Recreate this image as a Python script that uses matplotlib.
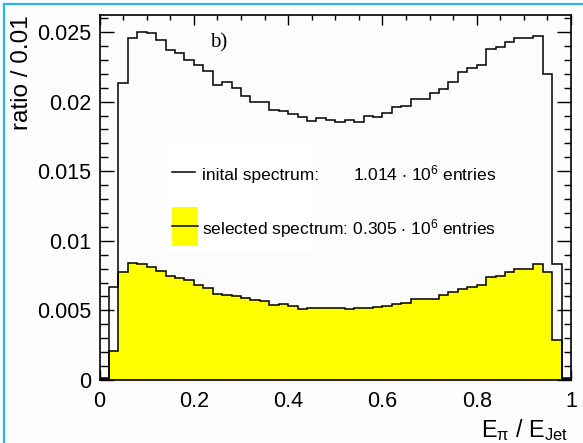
import numpy as np
import matplotlib
matplotlib.use("Agg")
import matplotlib.pyplot as plt
from matplotlib.ticker import MultipleLocator, FuncFormatter
from matplotlib.patches import Rectangle

# histogram contents, 50 bins in E_pi / E_Jet
bin_edges = np.linspace(0.0, 1.0, 51)

initial_spectrum = [
    0.00015, 0.0067, 0.0213, 0.0246, 0.0250, 0.0249, 0.0244, 0.0237, 0.0235, 0.0230,
    0.0226, 0.0222, 0.0212, 0.0214, 0.0210, 0.0204, 0.0200, 0.0200, 0.0194, 0.0193,
    0.0191, 0.0189, 0.0186, 0.0188, 0.0187, 0.0185, 0.0187, 0.0185, 0.0190, 0.0189,
    0.0192, 0.0196, 0.0197, 0.0202, 0.0202, 0.0206, 0.0209, 0.0214, 0.0221, 0.0224,
    0.0226, 0.0238, 0.0239, 0.0243, 0.0246, 0.0246, 0.0247, 0.0220, 0.0083, 0.00015,
]

selected_spectrum = [
    0.00005, 0.0021, 0.00775, 0.0084, 0.0083, 0.0081, 0.0078, 0.0075, 0.0073, 0.00715,
    0.00685, 0.0066, 0.0062, 0.0061, 0.0060, 0.0059, 0.00575, 0.00565, 0.0054, 0.00545,
    0.00535, 0.0051, 0.00515, 0.0052, 0.0052, 0.00517, 0.0051, 0.0052, 0.0052, 0.00525,
    0.0053, 0.00548, 0.0055, 0.0058, 0.0058, 0.00585, 0.0061, 0.0063, 0.00655, 0.00665,
    0.00685, 0.0074, 0.0075, 0.00775, 0.0080, 0.0080, 0.0083, 0.00775, 0.0029, 0.00005,
]

initial_label = "inital spectrum:"
initial_entries = r"1.014 $\cdot$ 10$^6$ entries"
selected_label = r"selected spectrum: 0.305 $\cdot$ 10$^6$ entries"

plt.rcParams['font.family'] = ['Liberation Sans', 'DejaVu Sans']
plt.rcParams['mathtext.default'] = 'regular'

W, H = 583, 443
def fx(px):
    return px / W
def fy(py):
    return 1 - py / H

fig = plt.figure(figsize=(W / 100, H / 100), dpi=100)
fig.patch.set_facecolor('#fdfdfd')

# cyan frame of the canvas (only left and top edges are visible)
fig.add_artist(plt.Line2D([fx(4), fx(4)], [fy(4), fy(460)], transform=fig.transFigure,
                          color='#2bb5e6', linewidth=1.6))
fig.add_artist(plt.Line2D([fx(4), fx(600)], [fy(4), fy(4)], transform=fig.transFigure,
                          color='#2bb5e6', linewidth=1.6))

ax = fig.add_axes([fx(99.5), fy(380), fx(571 - 99.5), (380 - 15) / H])
ax.set_facecolor('#fcfcfc')

ax.stairs(selected_spectrum, bin_edges, fill=True, color='#ffff00', zorder=2)
ax.stairs(selected_spectrum, bin_edges, color='black', linewidth=1.1, zorder=3)
ax.stairs(initial_spectrum, bin_edges, color='black', linewidth=1.1, zorder=3)

ax.set_xlim(0, 1)
ax.set_ylim(0, 0.02622)

ax.xaxis.set_major_locator(MultipleLocator(0.2))
ax.xaxis.set_minor_locator(MultipleLocator(0.05))
ax.yaxis.set_major_locator(MultipleLocator(0.005))
ax.yaxis.set_minor_locator(MultipleLocator(0.001))
fmt = FuncFormatter(lambda v, p: "%g" % round(v, 6))
ax.xaxis.set_major_formatter(fmt)
ax.yaxis.set_major_formatter(fmt)

ax.tick_params(which='both', direction='in', top=True, right=True, width=1.0, labelsize=15.5)
ax.tick_params(axis='x', which='major', length=7.2, pad=8)
ax.tick_params(axis='x', which='minor', length=3.3)
ax.tick_params(axis='y', which='major', length=10.4, pad=6)
ax.tick_params(axis='y', which='minor', length=5.4)
for s in ax.spines.values():
    s.set_linewidth(1.2)

# legend drawn by hand, ROOT style
ax.add_patch(Rectangle((fx(166.7), fy(253.3)), (313.3 - 166.7) / W, (253.3 - 143.3) / H,
                       transform=fig.transFigure, facecolor='white', edgecolor='none', zorder=4))
ax.add_line(plt.Line2D([fx(172), fx(195)], [fy(171.7), fy(171.7)], transform=fig.transFigure,
                       color='black', linewidth=1.1, zorder=5))
ax.add_patch(Rectangle((fx(171.7), fy(246)), (198.3 - 171.7) / W, (246 - 206.7) / H,
                       transform=fig.transFigure, facecolor='#ffff00', edgecolor='none', zorder=5))
ax.add_line(plt.Line2D([fx(171.7), fx(198.3)], [fy(226), fy(226)], transform=fig.transFigure,
                       color='black', linewidth=1.1, zorder=6))
fig.text(fx(201.7), fy(180), initial_label, fontsize=12.5, va='baseline', zorder=6)
fig.text(fx(353), fy(180), initial_entries, fontsize=12.5, va='baseline', zorder=6)
fig.text(fx(201.7), fy(234.3), selected_label, fontsize=12.5, va='baseline', zorder=6)

fig.text(fx(210), fy(47), "b)", fontsize=15, family=['Liberation Serif', 'DejaVu Serif'], va='baseline')

fig.text(fx(22), fy(15), "ratio / 0.01", rotation=90, fontsize=17.5, ha='center', va='top')
fig.text(fx(568), fy(437), r"E$_{\pi}$ / E$_{Jet}$", fontsize=16.8, ha='right', va='baseline')

fig.savefig("out.png", dpi=100, facecolor=fig.get_facecolor())
